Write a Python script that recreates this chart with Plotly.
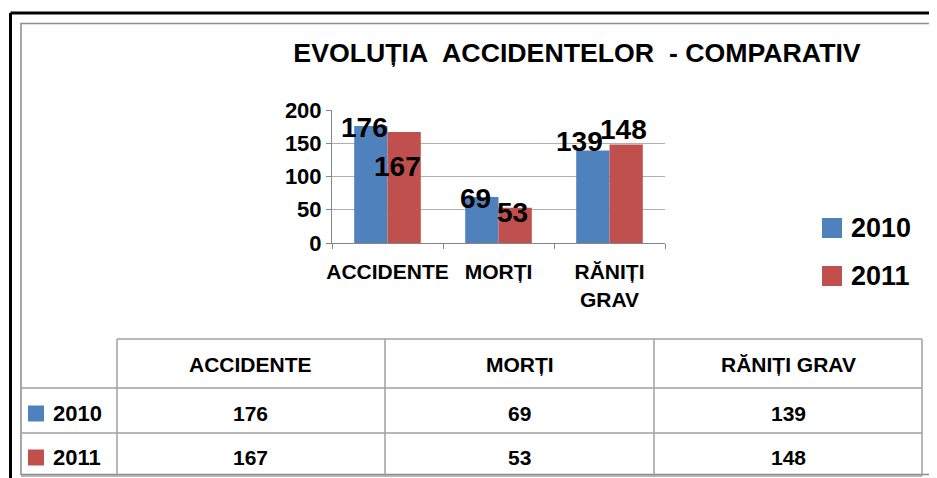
import plotly.graph_objects as go

# date
categorii = ["ACCIDENTE", "MORȚI", "RĂNIȚI GRAV"]
etichete_axa = ["ACCIDENTE", "MORȚI", "RĂNIȚI<br>GRAV"]
ani = ["2010", "2011"]
valori_2010 = [176, 69, 139]
valori_2011 = [167, 53, 148]
culori = ["#4f81bd", "#c0504d"]

W, H = 937, 478
FONT = "Liberation Sans, Arial, sans-serif"
OFF = 8  # marginea paginii (body) in captura


def px(x):
    return (x - OFF) / W


def py(y):
    return 1 - (y - OFF) / H


fig = go.Figure()
for an, vals, col in zip(ani, [valori_2010, valori_2011], culori):
    fig.add_bar(x=categorii, y=vals, name=an, marker_color=col,
                marker_line_width=0, showlegend=False)

# etichete de date (deplasari ca in original)
jumatate_bara = 16.6
deplasari = {
    "2010": [(-6, -2), (-6, -1), (-13, 9)],
    "2011": [(-7, -35), (-3, -5), (-3, 15)],
}
for i, (an, vals) in enumerate(zip(ani, [valori_2010, valori_2011])):
    semn = -1 if i == 0 else 1
    for cat, v, (dx, dy) in zip(categorii, vals, deplasari[an]):
        fig.add_annotation(x=cat, y=v, xref="x", yref="y", text=str(v),
                           showarrow=False, xshift=semn * jumatate_bara + dx,
                           yshift=dy, yanchor="middle",
                           font=dict(size=28, color="black", family=FONT, weight="bold"))

shapes = []
ann = []

# chenar exterior negru si chenar gri al graficului
shapes.append(dict(type="line", xref="paper", yref="paper", x0=px(10.5), x1=px(950),
                   y0=py(13), y1=py(13), line=dict(color="black", width=3)))
shapes.append(dict(type="line", xref="paper", yref="paper", x0=px(10.5), x1=px(10.5),
                   y0=py(13), y1=py(490), line=dict(color="black", width=3)))
shapes.append(dict(type="rect", xref="paper", yref="paper", x0=px(21), x1=px(936),
                   y0=py(23.5), y1=py(474.5), line=dict(color="#8c8c8c", width=1.5)))

# legenda
for i, (an, col) in enumerate(zip(ani, culori)):
    yc = 228 + i * 48
    shapes.append(dict(type="rect", xref="paper", yref="paper", x0=px(822), x1=px(842),
                       y0=py(yc - 10), y1=py(yc + 10), fillcolor=col, line_width=0))
    ann.append(dict(x=px(849), y=py(yc), xref="paper", yref="paper", text=an,
                    showarrow=False, xanchor="left", yanchor="middle",
                    font=dict(size=27, color="black", family=FONT, weight="bold")))

# tabel de date
col_x = [117, 385, 654, 922]
rand_y = [339, 388, 433, 476]
gri = "#a0a0a0"
shapes.append(dict(type="line", xref="paper", yref="paper", x0=px(117), x1=px(922),
                   y0=py(339), y1=py(339), line=dict(color=gri, width=1.5)))
for yy in rand_y[1:]:
    shapes.append(dict(type="line", xref="paper", yref="paper", x0=px(21), x1=px(922),
                       y0=py(yy), y1=py(yy), line=dict(color=gri, width=1.5)))
for xx in col_x:
    shapes.append(dict(type="line", xref="paper", yref="paper", x0=px(xx), x1=px(xx),
                       y0=py(339), y1=py(476), line=dict(color=gri, width=1.5)))

for j, cat in enumerate(categorii):
    xc = (col_x[j] + col_x[j + 1]) / 2
    ann.append(dict(x=px(xc), y=py(364), xref="paper", yref="paper", text=cat,
                    showarrow=False, xanchor="center", yanchor="middle",
                    font=dict(size=21, color="black", family=FONT, weight="bold")))
for i, (an, vals, col) in enumerate(zip(ani, [valori_2010, valori_2011], culori)):
    yc = (rand_y[i + 1] + rand_y[i + 2]) / 2 + 3
    shapes.append(dict(type="rect", xref="paper", yref="paper", x0=px(28), x1=px(44),
                       y0=py(yc - 8), y1=py(yc + 8), fillcolor=col, line_width=0))
    ann.append(dict(x=px(51), y=py(yc), xref="paper", yref="paper", text=an,
                    showarrow=False, xanchor="left", yanchor="middle",
                    font=dict(size=22, color="black", family=FONT, weight="bold")))
    for j, v in enumerate(vals):
        xc = (col_x[j] + col_x[j + 1]) / 2
        ann.append(dict(x=px(xc), y=py(yc), xref="paper", yref="paper", text=str(v),
                        showarrow=False, xanchor="center", yanchor="middle",
                        font=dict(size=21, color="black", family=FONT, weight="bold")))

fig.update_layout(
    width=W, height=H,
    margin=dict(l=0, r=0, t=0, b=0, autoexpand=False),
    paper_bgcolor="white", plot_bgcolor="white",
    barmode="group", bargap=0.4, bargroupgap=0,
    title=dict(text="EVOLUȚIA\u00a0 ACCIDENTELOR\u00a0 - COMPARATIV",
               x=px(577), xanchor="center", y=py(53), yanchor="middle",
               font=dict(size=26.7, color="black", family=FONT, weight="bold")),
    xaxis=dict(domain=[px(332), px(665)], showline=True, linecolor="#868686",
               ticks="outside", tickson="boundaries", ticklen=5, tickcolor="#868686",
               tickvals=categorii, ticktext=etichete_axa, ticklabelstandoff=10,
               tickangle=0, automargin=False,
               tickfont=dict(size=21, color="black", family=FONT, weight="bold")),
    yaxis=dict(domain=[py(243), py(110)], range=[0, 200], dtick=50,
               showgrid=True, gridcolor="#b0b0b0", gridwidth=1,
               showline=True, linecolor="#868686", ticks="outside", ticklen=5,
               tickcolor="#868686", zeroline=False, automargin=False,
               tickfont=dict(size=22, color="black", family=FONT, weight="bold")),
    shapes=shapes,
    annotations=list(fig.layout.annotations) + ann,
)

fig.write_html("out.html")
